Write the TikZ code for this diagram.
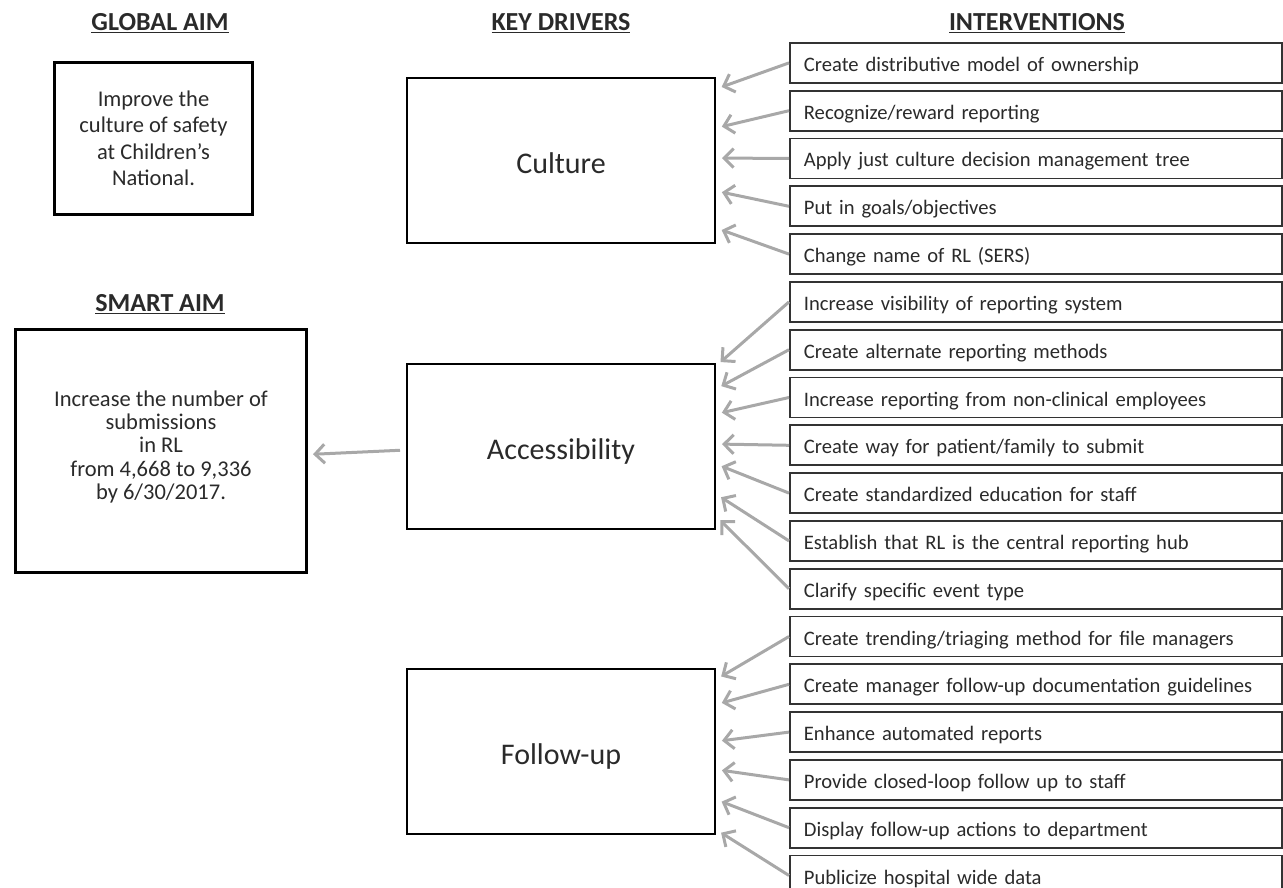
\documentclass[tikz,border=0pt]{standalone}
\usepackage{fontspec}
\setmainfont{Carlito}
\usetikzlibrary{arrows.meta,calc}
\definecolor{arrgrey}{HTML}{A8A8A8}
\definecolor{txt}{HTML}{2A2A2A}
\tikzset{
  hdr/.style={font=\fontsize{26}{30}\selectfont\bfseries, text=txt, inner sep=0pt},
  aimbox/.style={draw=black, line width=3pt, anchor=north west, align=center, text=txt, inner sep=0pt},
  drvbox/.style={draw=black, line width=2pt, anchor=north west, minimum width=308pt, minimum height=165pt, text height=32pt, text depth=6pt, font=\fontsize{30}{34}\selectfont, text=txt, inner sep=0pt},
  intbox/.style={draw=black!80, line width=1.8pt, anchor=north west, minimum width=492pt, minimum height=40pt, text width=464pt, text height=22pt, text depth=5pt, inner xsep=14pt, inner ysep=0pt, align=left, font=\fontsize{20.6}{24}\selectfont, text=txt},
  arr/.style={draw=arrgrey, line width=3pt, -{Straight Barb[length=9.5pt,width=19pt]}, shorten >=6pt}
}
\begin{document}
\begin{tikzpicture}[x=1pt,y=-1pt]
\useasboundingbox (0,0) rectangle (1283,888);
% headers
\node[hdr] (hg) at (160,23) {\underline{GLOBAL AIM}};
\node[hdr] (hk) at (561,23) {\underline{KEY DRIVERS}};
\node[hdr] (hi) at (1037,23) {\underline{INTERVENTIONS}};
\node[hdr] (hs) at (160,304) {\underline{SMART AIM}};
% aims
\node[aimbox, minimum width=198pt, minimum height=152pt, font=\fontsize{22.5}{26.5}\selectfont] (global) at (53,61) {Improve the\\culture of safety\\at Children’s\\National.};
\node[aimbox, minimum width=291pt, minimum height=243pt, font=\fontsize{22.5}{23.3}\selectfont] (smart) at (14,328) {Increase the number of\\submissions\\in RL\\from 4,668 to 9,336\\by 6/30/2017.\\[-11.3pt]\mbox{}};
% drivers
\node[drvbox] (culture) at (406,77) {Culture};
\node[drvbox] (access) at (406,363) {Accessibility};
\node[drvbox] (follow) at (406,668) {Follow-up};
% interventions
\foreach \i/\t in {1/{Create distributive model of ownership},
  2/{Recognize/reward reporting},
  3/{Apply just culture decision management tree},
  4/{Put in goals/objectives},
  5/{Change name of RL (SERS)},
  6/{Increase visibility of reporting system},
  7/{Create alternate reporting methods},
  8/{Increase reporting from non-clinical employees},
  9/{Create way for patient/family to submit},
  10/{Create standardized education for staff},
  11/{Establish that RL is the central reporting hub},
  12/{Clarify specific event type},
  13/{Create trending/triaging method for file managers},
  14/{Create manager follow-up documentation guidelines},
  15/{Enhance automated reports},
  16/{Provide closed-loop follow up to staff},
  17/{Display follow-up actions to department},
  18/{Publicize hospital wide data}}
  \node[intbox] (i\i) at (789,{42+47.8*(\i-1)}) {\t};
% arrows to Culture
\foreach \i/\dy in {1/-71.5,2/-32.5,3/-2.5,4/30.5,5/67.5}
  \draw[arr] (i\i.west) -- ($(culture.east)+(0,\dy)$);
% arrows to Accessibility
\foreach \i/\dy in {6/-80.5,7/-57.5,8/-32.5,9/-2.5,10/17.5,11/47.5,12/69.5}
  \draw[arr] (i\i.west) -- ($(access.east)+(0,\dy)$);
% arrows to Follow-up
\foreach \i/\dy in {13/-72,14/-47,15/-10,16/18,17/48,18/78}
  \draw[arr] (i\i.west) -- ($(follow.east)+(0,\dy)$);
% accessibility to smart aim
\draw[arr, shorten <=6pt, shorten >=5pt] ($(access.west)+(0,3.5)$) -- ($(smart.east)+(0,3.5)$);
\end{tikzpicture}
\end{document}
